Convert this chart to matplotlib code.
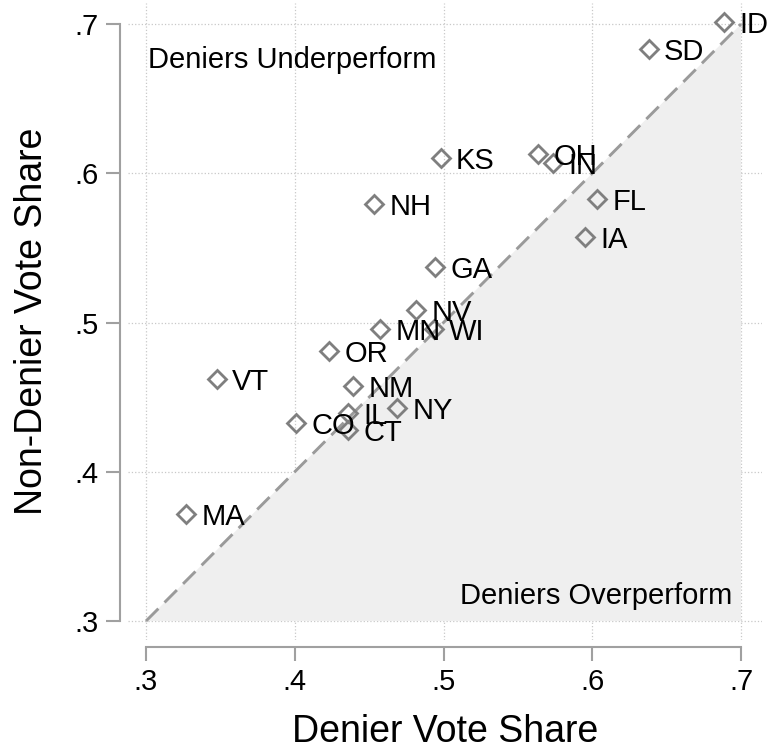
import matplotlib
matplotlib.use('Agg')
import matplotlib.pyplot as plt

# state-level vote shares
states = ['ID', 'SD', 'KS', 'OH', 'IN', 'NH', 'FL', 'IA', 'GA', 'NV', 'MN',
          'WI', 'OR', 'VT', 'NM', 'NY', 'IL', 'CO', 'CT', 'MA']
denier = [0.6886, 0.638, 0.498, 0.5635, 0.5736, 0.4533, 0.6032, 0.5951,
          0.4943, 0.4815, 0.4573, 0.4936, 0.423, 0.3477, 0.4392, 0.4687,
          0.4358, 0.4008, 0.4358, 0.3269]
non_denier = [0.7013, 0.683, 0.610, 0.613, 0.6069, 0.5794, 0.5827, 0.5573,
              0.5372, 0.5084, 0.4956, 0.4956, 0.4809, 0.4621, 0.4574, 0.4427,
              0.4394, 0.4327, 0.428, 0.3717]
ticks = [0.3, 0.4, 0.5, 0.6, 0.7]
tick_labels = ['.3', '.4', '.5', '.6', '.7']

plt.rcParams['font.family'] = ['Liberation Sans', 'DejaVu Sans']

fig = plt.figure(figsize=(7.67, 7.49), dpi=100)
ax = fig.add_axes([128/767, 109/749, 634/767, 637/749])

# shaded "overperform" triangle and 45-degree line
ax.fill([0.3, 0.7, 0.7], [0.3, 0.7, 0.3], color='#efefef', zorder=1, lw=0)
ax.plot([0.3, 0.7], [0.3, 0.7], color='#9a9a9a', lw=2.1, ls=(0, (6, 3)), zorder=2)

ax.plot(denier, non_denier, ls='none', marker='D', ms=9, mfc='none',
        mec='#7f7f7f', mew=2.0, zorder=3)
for s, x, y in zip(states, denier, non_denier):
    ax.annotate(s, (x, y), xytext=(11, 0), textcoords='offset points',
                va='center_baseline', ha='left', fontsize=21, zorder=4)

ax.text(0.3013, 0.678, 'Deniers Underperform', fontsize=21,
        va='center_baseline', ha='left')
ax.text(0.694, 0.3188, 'Deniers Overperform', fontsize=21,
        va='center_baseline', ha='right')

ax.set_xlim(0.2879, 0.7141)
ax.set_ylim(0.2873, 0.7141)
ax.set_xticks(ticks)
ax.set_xticklabels(tick_labels)
ax.set_yticks(ticks)
ax.set_yticklabels(tick_labels)
ax.grid(True, color='#c8c8c8', ls=':', lw=0.9, zorder=0)
ax.set_axisbelow(True)

for side in ['top', 'right']:
    ax.spines[side].set_visible(False)
ax.spines['left'].set_position(('outward', 6))
ax.spines['bottom'].set_position(('outward', 5))
ax.spines['left'].set_bounds(0.3, 0.7)
ax.spines['bottom'].set_bounds(0.3, 0.7)
for side in ['left', 'bottom']:
    ax.spines[side].set_color('#a0a0a0')
    ax.spines[side].set_linewidth(1.5)
ax.tick_params(axis='both', length=10, width=1.5, color='#a0a0a0', labelsize=21)
ax.tick_params(axis='x', pad=5)
ax.tick_params(axis='y', pad=5)

ax.set_xlabel('Denier Vote Share', fontsize=27, labelpad=13)
ax.set_ylabel('Non-Denier Vote Share', fontsize=27, labelpad=18)

fig.savefig('out.png', dpi=100)
